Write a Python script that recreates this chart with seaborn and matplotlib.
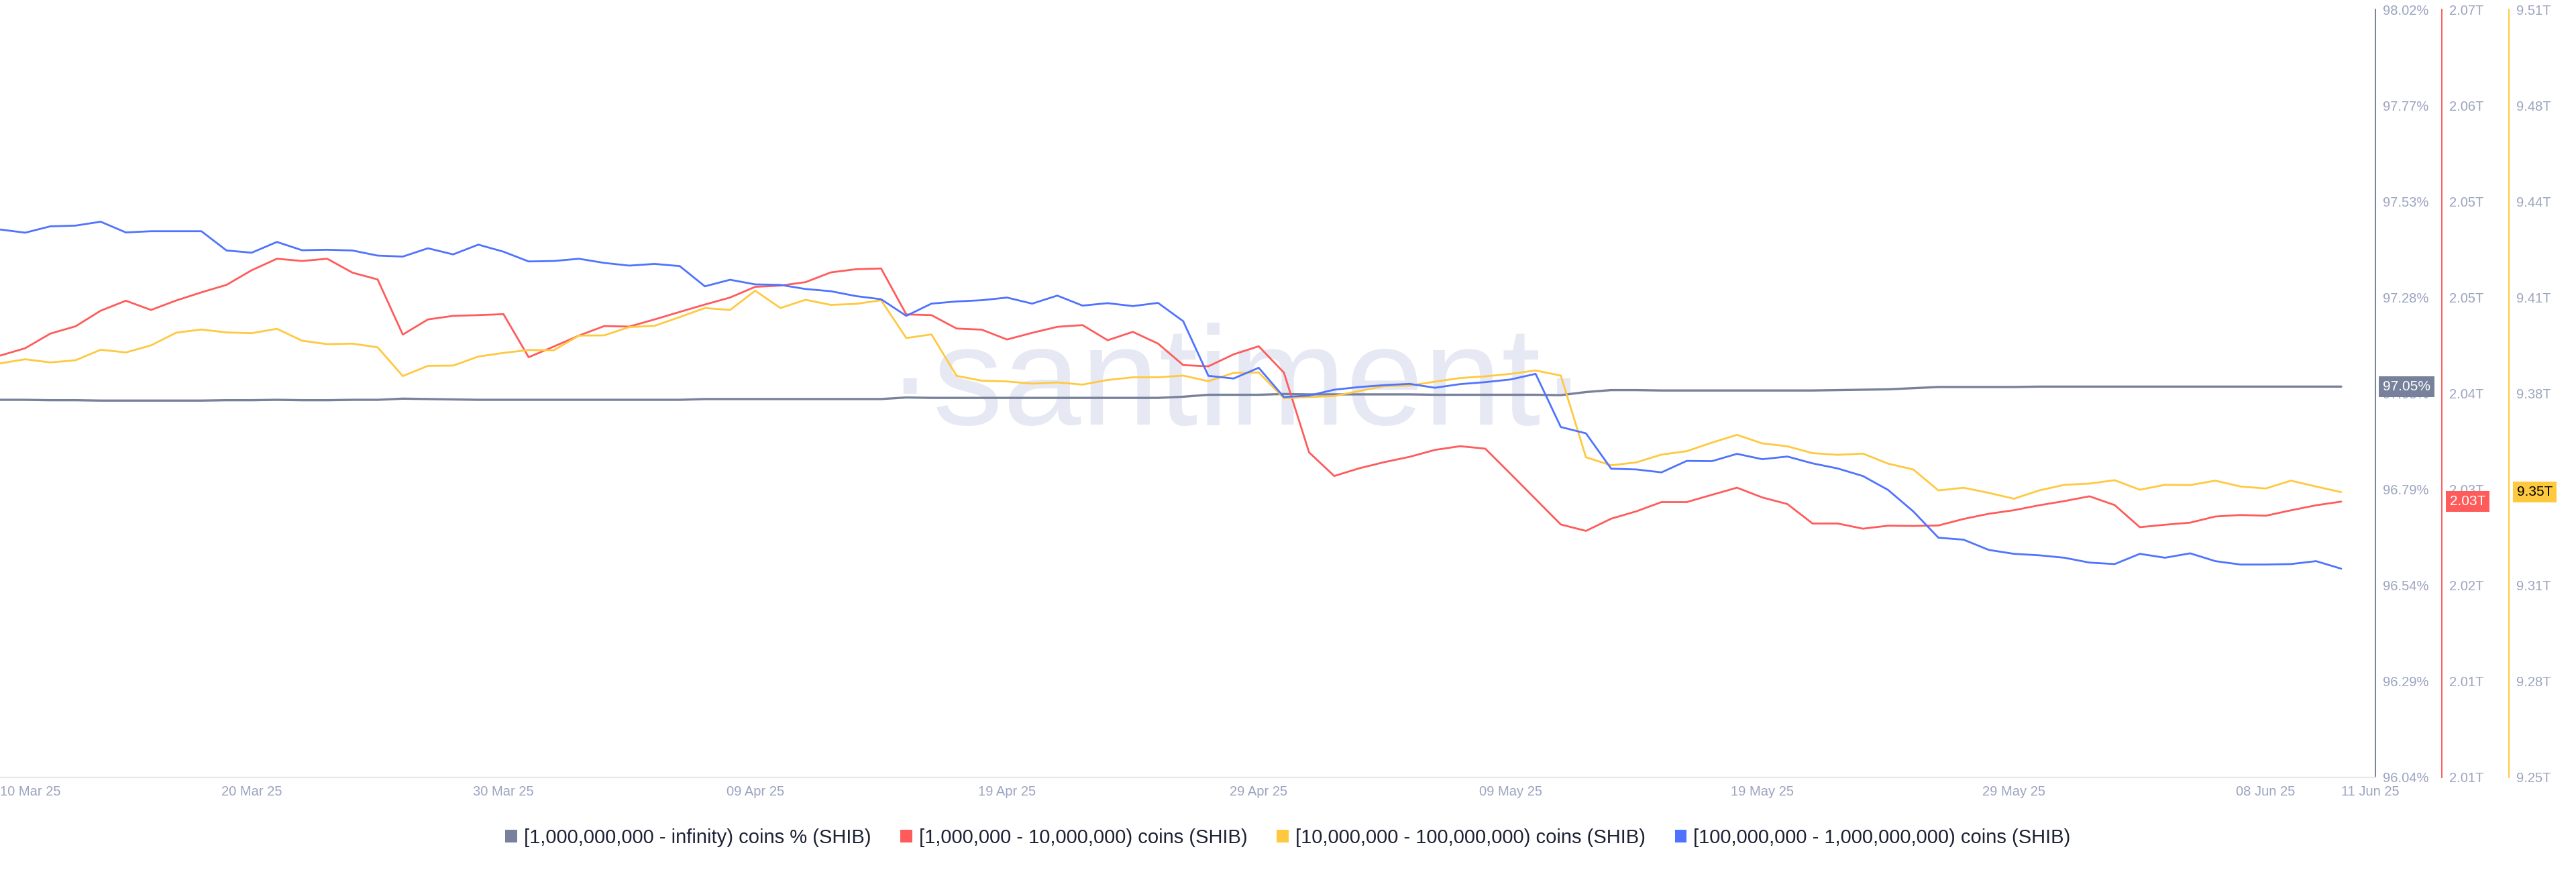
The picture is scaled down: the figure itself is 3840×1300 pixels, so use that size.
import numpy as np
import pandas as pd
import matplotlib
matplotlib.use("Agg")
import matplotlib.pyplot as plt
import matplotlib.dates as mdates
from matplotlib.patches import Patch
from matplotlib import font_manager
from matplotlib.font_manager import FontProperties
import seaborn as sns

# ---------------- data ----------------
dates = pd.date_range("2025-03-10", "2025-06-11", freq="D")

gray_pct = [
    97.016, 97.016, 97.015, 97.015, 97.014, 97.014, 97.014, 97.014, 97.014, 97.015,
    97.015, 97.016, 97.015, 97.015, 97.016, 97.016, 97.019, 97.018, 97.017, 97.016,
    97.016, 97.016, 97.016, 97.016, 97.016, 97.016, 97.016, 97.016, 97.018, 97.018,
    97.018, 97.018, 97.018, 97.018, 97.018, 97.018, 97.022, 97.021, 97.021, 97.021,
    97.021, 97.021, 97.021, 97.021, 97.021, 97.021, 97.021, 97.024, 97.029, 97.029,
    97.029, 97.031, 97.030, 97.030, 97.030, 97.030, 97.030, 97.029, 97.029, 97.029,
    97.029, 97.029, 97.028, 97.036, 97.041, 97.041, 97.040, 97.040, 97.040, 97.040,
    97.040, 97.040, 97.040, 97.041, 97.042, 97.043, 97.046, 97.049, 97.049, 97.049,
    97.049, 97.050, 97.050, 97.050, 97.050, 97.050, 97.050, 97.050, 97.050, 97.050,
    97.050, 97.050, 97.050, 97.050,
]

red_t = [
    2.04047, 2.04107, 2.04226, 2.04285, 2.04412, 2.04493, 2.04418, 2.04495, 2.04561, 2.04622,
    2.04741, 2.04834, 2.04816, 2.04834, 2.04721, 2.04666, 2.04218, 2.04341, 2.04370, 2.04376,
    2.04384, 2.04034, 2.04121, 2.04210, 2.04287, 2.04283, 2.04341, 2.04402, 2.04462, 2.04519,
    2.04606, 2.04616, 2.04644, 2.04723, 2.04749, 2.04755, 2.04382, 2.04376, 2.04267, 2.04258,
    2.04178, 2.04232, 2.04281, 2.04295, 2.04172, 2.04240, 2.04145, 2.03970, 2.03960, 2.04057,
    2.04123, 2.03909, 2.03261, 2.03069, 2.03132, 2.03182, 2.03225, 2.03281, 2.03311, 2.03291,
    2.03087, 2.02881, 2.02675, 2.02623, 2.02722, 2.02782, 2.02857, 2.02857, 2.02916, 2.02974,
    2.02895, 2.02841, 2.02683, 2.02683, 2.02641, 2.02665, 2.02663, 2.02667, 2.02720, 2.02762,
    2.02791, 2.02831, 2.02865, 2.02904, 2.02833, 2.02653, 2.02673, 2.02690, 2.02740, 2.02752,
    2.02746, 2.02790, 2.02831, 2.02861,
]

yellow_t = [
    9.38916, 9.39056, 9.38949, 9.39023, 9.39378, 9.39287, 9.39527, 9.39956, 9.40063, 9.39964,
    9.39939, 9.40088, 9.39684, 9.39568, 9.39585, 9.39461, 9.38487, 9.38833, 9.38842, 9.39147,
    9.39271, 9.39370, 9.39362, 9.39857, 9.39865, 9.40146, 9.40187, 9.40484, 9.40790, 9.40724,
    9.41376, 9.40790, 9.41070, 9.40897, 9.40930, 9.41054, 9.39774, 9.39898, 9.38495, 9.38330,
    9.38305, 9.38231, 9.38272, 9.38198, 9.38355, 9.38445, 9.38445, 9.38503, 9.38313, 9.38594,
    9.38611, 9.37736, 9.37777, 9.37810, 9.37983, 9.38148, 9.38165, 9.38297, 9.38421, 9.38478,
    9.38561, 9.38677, 9.38503, 9.35738, 9.35466, 9.35565, 9.35829, 9.35944, 9.36233, 9.36497,
    9.36209, 9.36109, 9.35878, 9.35821, 9.35862, 9.35523, 9.35325, 9.34615, 9.34706, 9.34533,
    9.34335, 9.34615, 9.34805, 9.34847, 9.34962, 9.34640, 9.34805, 9.34797, 9.34946, 9.34748,
    9.34681, 9.34946, 9.34748, 9.34558,
]

blue_t = [
    7.78536, 7.78371, 7.78701, 7.78739, 7.78942, 7.78383, 7.78447, 7.78447, 7.78447, 7.77443,
    7.77329, 7.77888, 7.77456, 7.77482, 7.77443, 7.77177, 7.77126, 7.77558, 7.77240, 7.77748,
    7.77380, 7.76872, 7.76897, 7.77012, 7.76796, 7.76656, 7.76745, 7.76631, 7.75577, 7.75920,
    7.75678, 7.75653, 7.75437, 7.75323, 7.75069, 7.74904, 7.74040, 7.74675, 7.74789, 7.74853,
    7.74992, 7.74675, 7.75094, 7.74573, 7.74700, 7.74548, 7.74713, 7.73761, 7.70916, 7.70776,
    7.71335, 7.69811, 7.69887, 7.70192, 7.70332, 7.70433, 7.70497, 7.70294, 7.70484, 7.70586,
    7.70725, 7.71018, 7.68249, 7.67919, 7.66078, 7.66039, 7.65887, 7.66484, 7.66471, 7.66852,
    7.66573, 7.66712, 7.66357, 7.66090, 7.65697, 7.64973, 7.63855, 7.62484, 7.62382, 7.61849,
    7.61645, 7.61569, 7.61442, 7.61188, 7.61112, 7.61645, 7.61442, 7.61671, 7.61264, 7.61087,
    7.61087, 7.61112, 7.61264, 7.60871,
]

series_labels = [
    "[1,000,000,000 - infinity) coins % (SHIB)",
    "[1,000,000 - 10,000,000) coins (SHIB)",
    "[10,000,000 - 100,000,000) coins (SHIB)",
    "[100,000,000 - 1,000,000,000) coins (SHIB)",
]

gray_ticklabels = ["96.04%", "96.29%", "96.54%", "96.79%", "97.03%", "97.28%", "97.53%", "97.77%", "98.02%"]
red_ticklabels = ["2.01T", "2.01T", "2.02T", "2.03T", "2.04T", "2.05T", "2.05T", "2.06T", "2.07T"]
yellow_ticklabels = ["9.25T", "9.28T", "9.31T", "9.35T", "9.38T", "9.41T", "9.44T", "9.48T", "9.51T"]

gray_range = (96.0445, 98.0205)
red_range = (2.0062, 2.0686)
yellow_range = (9.249, 9.509)
blue_range = (7.50, 7.90)

xtick_dates = ["2025-03-10", "2025-03-20", "2025-03-30", "2025-04-09", "2025-04-19",
               "2025-04-29", "2025-05-09", "2025-05-19", "2025-05-29", "2025-06-08", "2025-06-11"]
xtick_labels = ["10 Mar 25", "20 Mar 25", "30 Mar 25", "09 Apr 25", "19 Apr 25",
                "29 Apr 25", "09 May 25", "19 May 25", "29 May 25", "08 Jun 25", "11 Jun 25"]

badge_texts = ["97.05%", "2.03T", "9.35T"]
watermark = "\u00b7santiment\u00b7"

df = pd.DataFrame({"date": dates, "gray": gray_pct, "red": red_t,
                   "yellow": yellow_t, "blue": blue_t})

# ---------------- style ----------------
sns.set_theme(style="white")
plt.rcParams["font.family"] = ["Liberation Sans", "DejaVu Sans"]

C_GRAY = "#78819b"
C_RED = "#ff5b5b"
C_YEL = "#ffc93f"
C_BLUE = "#5073ff"
TICK_C = "#9ca4c0"
AXLINE_C = "#e6e7ef"

W, H = 3840, 1300
fig = plt.figure(figsize=(38.4, 13), dpi=100, facecolor="white")
ax_right_px = 3541
ax = fig.add_axes([0.0, 1 - 1159 / H, ax_right_px / W, (1159 - 14) / H])
ax_r = ax.twinx()
ax_y = ax.twinx()
ax_b = ax.twinx()

# ---- watermark font: a narrow face if installed, else Liberation Sans ----
names = {f.name for f in font_manager.fontManager.ttflist}
if "Liberation Sans Narrow" in names:
    wm_fp, wm_width = FontProperties(family="Liberation Sans Narrow"), 1000.0
else:
    wm_fp, wm_width = FontProperties(family="Liberation Sans"), 1045.0
wm = ax.text(1844 / W, 1 - 633 / H, watermark, transform=fig.transFigure,
             ha="center", va="baseline", fontproperties=wm_fp, color="#e6e9f4", zorder=0)
wm.set_fontsize(180)

# lines
sns.lineplot(data=df, x="date", y="gray", ax=ax, color=C_GRAY, linewidth=2.4, zorder=3)
sns.lineplot(data=df, x="date", y="red", ax=ax_r, color=C_RED, linewidth=2.0)
sns.lineplot(data=df, x="date", y="yellow", ax=ax_y, color=C_YEL, linewidth=2.0)
sns.lineplot(data=df, x="date", y="blue", ax=ax_b, color=C_BLUE, linewidth=2.0)

for a in (ax, ax_r, ax_y, ax_b):
    a.set_xlabel("")
    a.set_ylabel("")

x0 = mdates.date2num(pd.Timestamp("2025-03-10"))
ax.set_xlim(x0, x0 + 93 * ax_right_px / 3490)

# y axes
ax.set_ylim(*gray_range)
ax_r.set_ylim(*red_range)
ax_y.set_ylim(*yellow_range)
ax_b.set_ylim(*blue_range)

ax.set_yticks(np.linspace(*gray_range, 9), labels=gray_ticklabels)
ax_r.set_yticks(np.linspace(*red_range, 9), labels=red_ticklabels)
ax_y.set_yticks(np.linspace(*yellow_range, 9), labels=yellow_ticklabels)
ax_b.set_yticks([])
ax.yaxis.tick_right()

for a in (ax, ax_r, ax_y):
    a.tick_params(axis="y", length=0, pad=8, labelsize=14.5, labelcolor=TICK_C)

for a in (ax, ax_r, ax_y, ax_b):
    for s in ("left", "top"):
        a.spines[s].set_visible(False)
for a in (ax_r, ax_y, ax_b):
    a.spines["bottom"].set_visible(False)
ax_b.spines["right"].set_visible(False)

ax.spines["right"].set_color(C_GRAY)
ax.spines["right"].set_linewidth(1.4)
ax.spines["bottom"].set_color(AXLINE_C)
ax.spines["bottom"].set_linewidth(1.5)

ax_r.spines["right"].set_position(("axes", 3640 / ax_right_px))
ax_r.spines["right"].set_color(C_RED)
ax_r.spines["right"].set_linewidth(1.4)
ax_y.spines["right"].set_position(("axes", 3740 / ax_right_px))
ax_y.spines["right"].set_color(C_YEL)
ax_y.spines["right"].set_linewidth(1.4)

# x axis
ax.set_xticks([mdates.date2num(pd.Timestamp(d)) for d in xtick_dates], labels=xtick_labels)
ax.tick_params(axis="x", length=0, pad=9, labelsize=14.5, labelcolor=TICK_C)
xl = ax.get_xticklabels()
xl[0].set_ha("left")
xl[-1].set_ha("left")


# value badges
def badge(src_ax, xfrac, yval, text, fc, tc):
    ax_b.text(xfrac, yval, text, transform=src_ax.get_yaxis_transform(),
              ha="left", va="center", fontsize=15, color=tc, zorder=20, clip_on=False,
              bbox=dict(boxstyle="square,pad=0.28", fc=fc, ec="none"))


badge(ax, 3552 / ax_right_px, gray_pct[-1], badge_texts[0], C_GRAY, "white")
badge(ax_r, 3652 / ax_right_px, red_t[-1], badge_texts[1], C_RED, "white")
badge(ax_y, 3752 / ax_right_px, yellow_t[-1], badge_texts[2], C_YEL, "black")

# legend
handles = [Patch(facecolor=c, edgecolor="none") for c in (C_GRAY, C_RED, C_YEL, C_BLUE)]
fig.legend(handles, series_labels, loc="center", bbox_to_anchor=(0.5, 1 - 1249 / H),
           ncol=4, frameon=False, fontsize=21, handlelength=0.6, handleheight=0.65,
           handletextpad=0.35, columnspacing=1.5, labelcolor="#1e2235")

# fit watermark width to the reference
fig.canvas.draw()
bb = wm.get_window_extent()
wm.set_fontsize(180 * wm_width / max(bb.width, 1.0))

fig.savefig("out.png", dpi=100, facecolor="white")
